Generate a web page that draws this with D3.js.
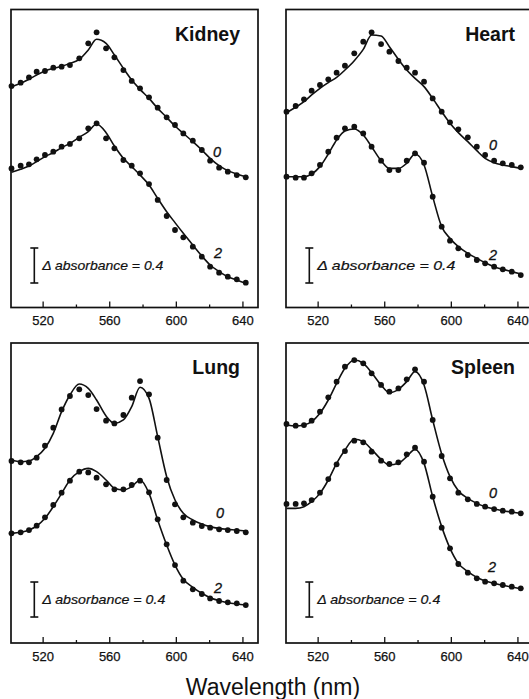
<!DOCTYPE html>
<html><head><meta charset="utf-8">
<script src="https://cdn.jsdelivr.net/npm/d3@7"></script>
<style>
html,body{margin:0;padding:0;background:#fff;}
svg{display:block;}
text{font-family:"Liberation Sans",Arial,Helvetica,sans-serif;fill:#111;}
</style></head>
<body>
<svg id="chart" width="529" height="699"></svg>
<script>
// ---- data ----
const wavelengths = [501.3,506.8,511.8,516.4,521.4,526.4,531.4,536.4,542.0,547.4,552.4,558.1,563.1,568.5,573.5,578.5,583.9,589.1,594.5,599.5,604.5,610.2,615.6,620.6,626.0,631.2,636.6,642.0];
const majorTicks = [520,560,600,640];
const minorTicks = [540,580,620];
const tissues = ["Kidney","Heart","Lung","Spleen"];
const curveLabels = ["0","2"];
const scaleBarDelta = 0.4;
const scaleBarText = "\u0394 absorbance = 0.4";

const kidney0    = [2.531,2.570,2.630,2.695,2.703,2.741,2.752,2.771,2.848,3.019,3.145,2.962,2.859,2.714,2.589,2.505,2.402,2.284,2.173,2.086,1.990,1.907,1.800,1.678,1.598,1.552,1.514,1.488];
const kidney0Fit = [2.524,2.562,2.608,2.657,2.703,2.733,2.756,2.790,2.836,2.943,3.065,3.019,2.886,2.733,2.600,2.493,2.390,2.276,2.173,2.074,1.990,1.895,1.800,1.705,1.621,1.564,1.526,1.495];
const kidney2    = [1.590,1.621,1.636,1.693,1.743,1.781,1.838,1.869,1.933,2.048,2.105,1.933,1.819,1.686,1.621,1.533,1.411,1.229,1.046,0.886,0.802,0.695,0.581,0.467,0.398,0.352,0.322,0.284];
const kidney2Fit = [1.545,1.579,1.617,1.667,1.724,1.770,1.827,1.876,1.945,2.010,2.097,1.998,1.846,1.705,1.610,1.514,1.400,1.248,1.095,0.970,0.848,0.714,0.589,0.486,0.410,0.352,0.314,0.276];

const heart0    = [2.238,2.303,2.379,2.478,2.543,2.608,2.684,2.764,2.905,3.038,3.145,3.011,2.924,2.817,2.741,2.684,2.581,2.390,2.238,2.116,2.036,1.945,1.838,1.743,1.678,1.648,1.629,1.602];
const heart0Fit = [2.227,2.288,2.352,2.429,2.505,2.570,2.630,2.714,2.821,2.950,3.114,3.103,2.981,2.836,2.714,2.619,2.524,2.390,2.238,2.105,1.998,1.895,1.792,1.705,1.655,1.629,1.610,1.590];
const heart2    = [1.495,1.484,1.484,1.533,1.629,1.781,1.941,2.048,2.067,1.990,1.838,1.678,1.571,1.571,1.678,1.762,1.655,1.267,0.924,0.764,0.676,0.600,0.543,0.505,0.467,0.436,0.410,0.371];
const heart2Fit = [1.495,1.495,1.495,1.526,1.610,1.754,1.914,2.017,2.040,1.971,1.838,1.678,1.590,1.590,1.648,1.754,1.629,1.267,0.924,0.790,0.695,0.619,0.562,0.512,0.467,0.436,0.410,0.383];

const lung0    = [2.080,2.065,2.065,2.118,2.255,2.461,2.670,2.823,2.899,2.834,2.674,2.541,2.510,2.606,2.804,2.994,2.842,2.347,1.863,1.585,1.436,1.375,1.337,1.318,1.299,1.291,1.280,1.265];
const lung0Fit = [2.091,2.072,2.080,2.130,2.225,2.396,2.644,2.834,2.960,2.910,2.777,2.594,2.510,2.549,2.701,2.922,2.796,2.358,1.901,1.634,1.482,1.406,1.360,1.330,1.310,1.299,1.291,1.280];
const lung2    = [1.253,1.265,1.291,1.341,1.436,1.577,1.718,1.855,1.958,1.950,1.890,1.813,1.756,1.756,1.806,1.855,1.722,1.413,1.128,0.891,0.712,0.613,0.560,0.510,0.480,0.465,0.453,0.434];
const lung2Fit = [1.253,1.265,1.291,1.337,1.425,1.558,1.710,1.863,1.958,1.996,1.958,1.863,1.768,1.749,1.787,1.863,1.710,1.406,1.120,0.891,0.728,0.636,0.568,0.518,0.484,0.461,0.446,0.434];

const spleen0    = [2.503,2.484,2.491,2.541,2.644,2.808,2.987,3.158,3.234,3.196,3.082,2.949,2.872,2.910,3.013,3.128,2.987,2.549,2.137,1.882,1.718,1.642,1.589,1.558,1.531,1.512,1.501,1.482];
const spleen0Fit = [2.491,2.480,2.491,2.530,2.625,2.777,2.968,3.139,3.234,3.196,3.090,2.949,2.861,2.899,2.987,3.101,2.949,2.549,2.160,1.901,1.741,1.653,1.596,1.558,1.531,1.512,1.497,1.482];
const spleen2    = [1.589,1.589,1.596,1.634,1.718,1.874,2.042,2.194,2.312,2.293,2.187,2.084,2.046,2.065,2.156,2.232,2.072,1.672,1.318,1.082,0.903,0.804,0.739,0.701,0.682,0.663,0.644,0.625];
const spleen2Fit = [1.539,1.539,1.558,1.615,1.710,1.863,2.053,2.206,2.328,2.301,2.213,2.099,2.034,2.053,2.130,2.213,2.053,1.672,1.330,1.082,0.910,0.815,0.750,0.709,0.682,0.659,0.640,0.621];

// label anchor positions (wavelength, absorbance) for the "0" / "2" tags
const labelWl  = [[624.7,625.3],[625.3,625.3],[626.5,625.3],[625.3,624.7]];
const labelAbs = [[1.777,0.623],[1.857,0.600],[1.486,0.629],[1.714,0.869]];
const barWl = 515;
const barBase = [0.28,0.28,0.297,0.297];

// ---- layout ----
const W = 247, pxPerAbs = 87.5;
const layout = [
  {x:11,  y:9.5, h:298, tfs:12.6, tlen:121},
  {x:286, y:9.5, h:298, tfs:13.2, tlen:138},
  {x:11,  y:343, h:300, tfs:12.6, tlen:123},
  {x:286, y:343, h:300, tfs:12.6, tlen:123}
];
const series = [
  [[kidney0,kidney0Fit],[kidney2,kidney2Fit]],
  [[heart0,heart0Fit],[heart2,heart2Fit]],
  [[lung0,lung0Fit],[lung2,lung2Fit]],
  [[spleen0,spleen0Fit],[spleen2,spleen2Fit]]
];

const svg = d3.select("#chart");

tissues.forEach((name, i) => {
  const L = layout[i];
  const g = svg.append("g").attr("transform", `translate(${L.x},${L.y})`);
  const x = d3.scaleLinear().domain([501, 501 + W/1.665]).range([0, W]);
  const y = d3.scaleLinear().domain([0, L.h/pxPerAbs]).range([L.h, 0]);

  // axis ticks (inward)
  const ax = g.append("g").attr("transform", `translate(0,${L.h})`)
    .call(d3.axisBottom(x).tickValues(majorTicks).tickSizeInner(-6).tickSizeOuter(0).tickPadding(8.5).tickFormat(d3.format("d")));
  ax.select(".domain").remove();
  ax.selectAll("line").attr("stroke","#111").attr("stroke-width",1.3);
  ax.selectAll("text").attr("font-size",13).attr("fill","#111")
    .attr("stroke","#111").attr("stroke-width",0.25)
    .attr("font-family",'"Liberation Sans",Arial,sans-serif');
  const mx = g.append("g").attr("transform", `translate(0,${L.h})`)
    .call(d3.axisBottom(x).tickValues(minorTicks).tickSizeInner(-3).tickSizeOuter(0).tickFormat(""));
  mx.select(".domain").remove();
  mx.selectAll("line").attr("stroke","#111").attr("stroke-width",1.3);

  // frame
  g.append("rect").attr("x",0).attr("y",0).attr("width",W).attr("height",L.h)
    .attr("fill","none").attr("stroke","#111").attr("stroke-width",1.7);

  const line = d3.line().x((d,k)=>x(wavelengths[k])).y(d=>y(d)).curve(d3.curveMonotoneX);

  series[i].forEach(([pts, fit], s) => {
    g.append("path").datum(fit).attr("d", line)
      .attr("fill","none").attr("stroke","#111").attr("stroke-width",1.6);
    g.selectAll(null).data(pts).enter().append("circle")
      .attr("cx",(d,k)=>x(wavelengths[k])).attr("cy",d=>y(d)).attr("r",2.9).attr("fill","#111");
    g.append("text").attr("x", x(labelWl[i][s])).attr("y", y(labelAbs[i][s])).attr("dy","0.36em")
      .attr("text-anchor","middle").attr("font-size",14.5).attr("font-style","italic")
      .attr("stroke","#111").attr("stroke-width",0.3)
      .text(curveLabels[s]);
  });

  // title
  g.append("text").attr("x", W - 18).attr("y", 31).attr("text-anchor","end")
    .attr("font-size",19.5).attr("font-weight","bold").text(name);

  // scale bar
  const bx = x(barWl), y0 = y(barBase[i]), y1 = y(barBase[i] + scaleBarDelta);
  const sb = g.append("g").attr("stroke","#111").attr("stroke-width",1.6);
  sb.append("line").attr("x1",bx).attr("x2",bx).attr("y1",y0).attr("y2",y1);
  sb.append("line").attr("x1",bx-4).attr("x2",bx+4).attr("y1",y0).attr("y2",y0);
  sb.append("line").attr("x1",bx-4).attr("x2",bx+4).attr("y1",y1).attr("y2",y1);
  g.append("text").attr("x", bx + 8).attr("y", (y0+y1)/2).attr("dy","0.36em")
    .attr("font-size",L.tfs).attr("font-style","italic")
    .attr("stroke","#111").attr("stroke-width",0.2)
    .attr("textLength",L.tlen).attr("lengthAdjust","spacingAndGlyphs")
    .text(scaleBarText);
});

svg.append("text").attr("x",273).attr("y",695).attr("text-anchor","middle")
  .attr("font-size",23).text("Wavelength (nm)");
</script>
</body></html>
